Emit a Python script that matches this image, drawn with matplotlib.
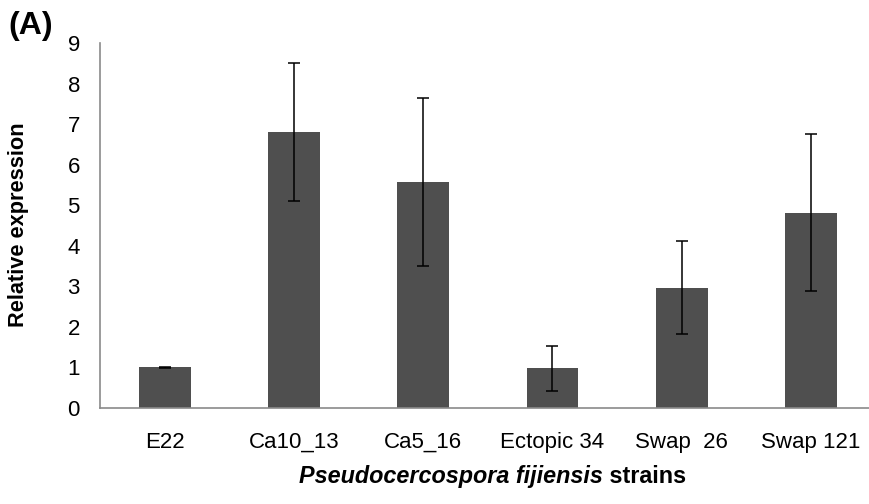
import matplotlib.pyplot as plt
import numpy as np

strains = ["E22", "Ca10_13", "Ca5_16", "Ectopic 34", "Swap  26", "Swap 121"]
expression = [1.0, 6.80, 5.57, 0.98, 2.97, 4.82]
errors = [0.01, 1.70, 2.08, 0.55, 1.15, 1.93]

plt.rcParams['font.family'] = ['Liberation Sans', 'DejaVu Sans']

fig = plt.figure(figsize=(8.69, 5.04), dpi=100)
ax = fig.add_axes([0.1151, 0.1905, 0.8925, 0.7242])

x = np.arange(len(strains))
ax.bar(x, expression, width=0.4, color='#4f4f4f', zorder=2)
ax.errorbar(x, expression, yerr=errors, fmt='none', ecolor='black',
            elinewidth=1.1, capsize=4, capthick=1.1, zorder=3)

ax.set_xlim(-0.5, 5.5)
ax.set_ylim(0, 9)
ax.set_yticks(range(10))
ax.set_xticks(x)
ax.set_xticklabels(strains)
ax.tick_params(axis='both', length=0, labelsize=16, colors='black')
ax.tick_params(axis='x', pad=17)
ax.tick_params(axis='y', pad=14.5)

for s in ['top', 'right']:
    ax.spines[s].set_visible(False)
for s in ['left', 'bottom']:
    ax.spines[s].set_color('#8a8a8a')
    ax.spines[s].set_linewidth(1.2)

fig.text(0.021, 0.554, "Relative expression", rotation=90, fontsize=15.7,
         fontweight='bold', ha='center', va='center')

t1 = fig.text(0.694, 0.042, "Pseudocercospora fijiensis", fontsize=16.8,
              fontweight='bold', style='italic', ha='right', va='baseline')
ax.annotate(" strains", xy=(1, 0), xycoords=t1, fontsize=16.8,
            fontweight='bold', ha='left', va='bottom')

fig.text(0.010, 0.978, "(A)", fontsize=23, fontweight='bold',
         ha='left', va='top')

fig.savefig("out.png", dpi=100)
